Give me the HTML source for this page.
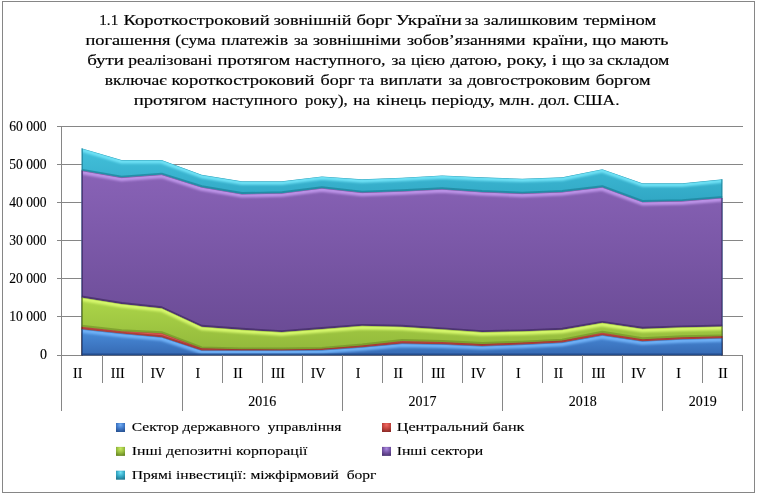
<!DOCTYPE html>
<html lang="uk"><head><meta charset="utf-8"><title>1.1 Короткостроковий зовнішній борг України</title>
<style>
html,body{margin:0;padding:0;background:#fff;}
body{width:757px;height:493px;overflow:hidden;}
svg{display:block;}
text{font-family:"Liberation Serif",serif;fill:#000;stroke:#000;stroke-width:0.18px;}
.t{font-size:15.3px;}
.a{font-size:14px;stroke-width:0.12px;}
.l{font-size:13.4px;stroke-width:0.12px;}
.g{stroke:#868686;stroke-width:1;fill:none;shape-rendering:crispEdges;}
.n{fill:none;stroke-linejoin:round;}
</style></head><body>
<svg width="757" height="493" viewBox="0 0 757 493">
<defs>
<linearGradient id="gc" gradientUnits="userSpaceOnUse" x1="0" y1="150" x2="0" y2="200"><stop offset="0" stop-color="#42bfda"/><stop offset="1" stop-color="#31a8c5"/></linearGradient>
<linearGradient id="gp" gradientUnits="userSpaceOnUse" x1="0" y1="175" x2="0" y2="335"><stop offset="0" stop-color="#8862b6"/><stop offset="1" stop-color="#6a4b95"/></linearGradient>
<linearGradient id="gg" gradientUnits="userSpaceOnUse" x1="0" y1="298" x2="0" y2="350"><stop offset="0" stop-color="#add649"/><stop offset="1" stop-color="#93b93b"/></linearGradient>
<linearGradient id="gr" gradientUnits="userSpaceOnUse" x1="0" y1="326" x2="0" y2="352"><stop offset="0" stop-color="#d8544c"/><stop offset="1" stop-color="#bd4640"/></linearGradient>
<linearGradient id="gb" gradientUnits="userSpaceOnUse" x1="0" y1="330" x2="0" y2="356"><stop offset="0" stop-color="#4a8edb"/><stop offset="1" stop-color="#3568b2"/></linearGradient>
<radialGradient id="mb" cx="0.5" cy="0.25" r="0.75" fx="0.5" fy="0.2"><stop offset="0" stop-color="#74aef4"/><stop offset="0.55" stop-color="#3f78c8"/><stop offset="1" stop-color="#2a5596"/></radialGradient>
<radialGradient id="mr" cx="0.5" cy="0.25" r="0.75" fx="0.5" fy="0.2"><stop offset="0" stop-color="#f26a62"/><stop offset="0.55" stop-color="#c4443e"/><stop offset="1" stop-color="#8e2c28"/></radialGradient>
<radialGradient id="mg" cx="0.5" cy="0.25" r="0.75" fx="0.5" fy="0.2"><stop offset="0" stop-color="#c8ea62"/><stop offset="0.55" stop-color="#98bd3e"/><stop offset="1" stop-color="#6b8a26"/></radialGradient>
<radialGradient id="mp" cx="0.5" cy="0.25" r="0.75" fx="0.5" fy="0.2"><stop offset="0" stop-color="#ab8ae2"/><stop offset="0.55" stop-color="#7553a4"/><stop offset="1" stop-color="#4e3676"/></radialGradient>
<radialGradient id="mc" cx="0.5" cy="0.25" r="0.75" fx="0.5" fy="0.2"><stop offset="0" stop-color="#72e2f6"/><stop offset="0.55" stop-color="#35a9c6"/><stop offset="1" stop-color="#217a92"/></radialGradient>
<filter id="b1" filterUnits="userSpaceOnUse" x="0" y="0" width="757" height="493"><feGaussianBlur stdDeviation="1.3"/></filter>
<filter id="b2" filterUnits="userSpaceOnUse" x="0" y="0" width="757" height="493"><feGaussianBlur stdDeviation="0.6"/></filter>
<clipPath id="kc"><path d="M81.5,355.5 L81.5,148.2 L121.6,160.1 L161.7,160.1 L201.7,174.8 L241.8,181.3 L281.8,181.3 L321.9,176.4 L362,179.3 L402,177.7 L442.1,175.4 L482.1,177.3 L522.2,178.7 L562.2,177.3 L602.3,169.2 L642.4,183.3 L682.4,183.3 L722.5,179.3 L722.5,355.5 Z"/></clipPath>
<clipPath id="kp"><path d="M81.5,355.5 L81.5,170.6 L121.6,177.6 L161.7,174.6 L201.7,187.2 L241.8,194 L281.8,193.2 L321.9,188.2 L362,192.6 L402,191.2 L442.1,189.2 L482.1,192 L522.2,193.6 L562.2,192 L602.3,187.2 L642.4,201.9 L682.4,201.1 L722.5,197.9 L722.5,355.5 Z"/></clipPath>
<clipPath id="kg"><path d="M81.5,355.5 L81.5,297.5 L121.6,303.9 L161.7,308.2 L201.7,326.7 L241.8,329.7 L281.8,332.1 L321.9,329 L362,325.8 L402,326.7 L442.1,329.3 L482.1,332.1 L522.2,331.3 L562.2,329.7 L602.3,322.8 L642.4,328.7 L682.4,327.3 L722.5,326.4 L722.5,355.5 Z"/></clipPath>
<clipPath id="kr"><path d="M81.5,355.5 L81.5,326.7 L121.6,331.2 L161.7,333.2 L201.7,348.3 L241.8,349.3 L281.8,349.4 L321.9,348.8 L362,345.4 L402,341 L442.1,342 L482.1,344 L522.2,342.6 L562.2,340.6 L602.3,332.7 L642.4,339.2 L682.4,337.2 L722.5,336.3 L722.5,355.5 Z"/></clipPath>
<clipPath id="kb"><path d="M81.5,355.5 L81.5,329.2 L121.6,333.6 L161.7,337.2 L201.7,350.4 L241.8,350.5 L281.8,350.5 L321.9,350.1 L362,347.2 L402,343.6 L442.1,344.3 L482.1,346 L522.2,344.6 L562.2,342.6 L602.3,335.3 L642.4,341.2 L682.4,339.2 L722.5,338.2 L722.5,355.5 Z"/></clipPath>
</defs>
<rect x="0" y="0" width="757" height="493" fill="#fff"/>
<rect x="2.5" y="1.5" width="752" height="491" fill="#fff" stroke="#868686" stroke-width="1"/>
<path class="g" d="M57,126.5 H743"/>
<path class="g" d="M57,164.5 H743"/>
<path class="g" d="M57,202.5 H743"/>
<path class="g" d="M57,240.5 H743"/>
<path class="g" d="M57,278.5 H743"/>
<path class="g" d="M57,316.5 H743"/>
<path class="g" d="M57,355.5 H743"/>
<path class="g" d="M61.5,126 V410.5"/>
<g clip-path="url(#kc)">
<path d="M81.5,355.5 L81.5,148.2 L121.6,160.1 L161.7,160.1 L201.7,174.8 L241.8,181.3 L281.8,181.3 L321.9,176.4 L362,179.3 L402,177.7 L442.1,175.4 L482.1,177.3 L522.2,178.7 L562.2,177.3 L602.3,169.2 L642.4,183.3 L682.4,183.3 L722.5,179.3 L722.5,355.5 Z" fill="url(#gc)"/>
<path class="n" d="M81.5,149.6 L121.6,161.5 L161.7,161.5 L201.7,176.2 L241.8,182.7 L281.8,182.7 L321.9,177.8 L362,180.7 L402,179.1 L442.1,176.8 L482.1,178.7 L522.2,180.1 L562.2,178.7 L602.3,170.6 L642.4,184.7 L682.4,184.7 L722.5,180.7" stroke="#6fe2f6" stroke-width="4.0" filter="url(#b1)"/>
<path class="n" d="M81.5,148.2 L121.6,160.1 L161.7,160.1 L201.7,174.8 L241.8,181.3 L281.8,181.3 L321.9,176.4 L362,179.3 L402,177.7 L442.1,175.4 L482.1,177.3 L522.2,178.7 L562.2,177.3 L602.3,169.2 L642.4,183.3 L682.4,183.3 L722.5,179.3" stroke="#1d8098" stroke-width="0.9" opacity="0.55"/>
<path class="n" d="M81.5,169.8 L121.6,176.8 L161.7,173.8 L201.7,186.4 L241.8,193.2 L281.8,192.4 L321.9,187.4 L362,191.8 L402,190.4 L442.1,188.4 L482.1,191.2 L522.2,192.8 L562.2,191.2 L602.3,186.4 L642.4,201.1 L682.4,200.3 L722.5,197.1" stroke="#1d8098" stroke-width="2.2" opacity="0.7" filter="url(#b2)"/>
<path class="n" d="M82,120 V360" stroke="#1d8098" stroke-width="1.8" opacity="0.8" filter="url(#b2)"/>
<path class="n" d="M722.1,120 V360" stroke="#1d8098" stroke-width="1.6" opacity="0.8" filter="url(#b2)"/>
</g>
<g clip-path="url(#kp)">
<path d="M81.5,355.5 L81.5,170.6 L121.6,177.6 L161.7,174.6 L201.7,187.2 L241.8,194 L281.8,193.2 L321.9,188.2 L362,192.6 L402,191.2 L442.1,189.2 L482.1,192 L522.2,193.6 L562.2,192 L602.3,187.2 L642.4,201.9 L682.4,201.1 L722.5,197.9 L722.5,355.5 Z" fill="url(#gp)"/>
<path class="n" d="M81.5,172 L121.6,179 L161.7,176 L201.7,188.6 L241.8,195.4 L281.8,194.6 L321.9,189.6 L362,194 L402,192.6 L442.1,190.6 L482.1,193.4 L522.2,195 L562.2,193.4 L602.3,188.6 L642.4,203.3 L682.4,202.5 L722.5,199.3" stroke="#bc93e7" stroke-width="4.4" filter="url(#b1)"/>
<path class="n" d="M81.5,170.6 L121.6,177.6 L161.7,174.6 L201.7,187.2 L241.8,194 L281.8,193.2 L321.9,188.2 L362,192.6 L402,191.2 L442.1,189.2 L482.1,192 L522.2,193.6 L562.2,192 L602.3,187.2 L642.4,201.9 L682.4,201.1 L722.5,197.9" stroke="#3f2a62" stroke-width="0.9" opacity="0.55"/>
<path class="n" d="M81.5,296.7 L121.6,303.1 L161.7,307.4 L201.7,325.9 L241.8,328.9 L281.8,331.3 L321.9,328.2 L362,325 L402,325.9 L442.1,328.5 L482.1,331.3 L522.2,330.5 L562.2,328.9 L602.3,322 L642.4,327.9 L682.4,326.5 L722.5,325.6" stroke="#3f2a62" stroke-width="2.2" opacity="0.7" filter="url(#b2)"/>
<path class="n" d="M82,120 V360" stroke="#3f2a62" stroke-width="1.8" opacity="0.8" filter="url(#b2)"/>
<path class="n" d="M722.1,120 V360" stroke="#3f2a62" stroke-width="1.6" opacity="0.8" filter="url(#b2)"/>
</g>
<g clip-path="url(#kg)">
<path d="M81.5,355.5 L81.5,297.5 L121.6,303.9 L161.7,308.2 L201.7,326.7 L241.8,329.7 L281.8,332.1 L321.9,329 L362,325.8 L402,326.7 L442.1,329.3 L482.1,332.1 L522.2,331.3 L562.2,329.7 L602.3,322.8 L642.4,328.7 L682.4,327.3 L722.5,326.4 L722.5,355.5 Z" fill="url(#gg)"/>
<path class="n" d="M81.5,298.9 L121.6,305.3 L161.7,309.6 L201.7,328.1 L241.8,331.1 L281.8,333.5 L321.9,330.4 L362,327.2 L402,328.1 L442.1,330.7 L482.1,333.5 L522.2,332.7 L562.2,331.1 L602.3,324.2 L642.4,330.1 L682.4,328.7 L722.5,327.8" stroke="#d6f76c" stroke-width="4.4" filter="url(#b1)"/>
<path class="n" d="M81.5,297.5 L121.6,303.9 L161.7,308.2 L201.7,326.7 L241.8,329.7 L281.8,332.1 L321.9,329 L362,325.8 L402,326.7 L442.1,329.3 L482.1,332.1 L522.2,331.3 L562.2,329.7 L602.3,322.8 L642.4,328.7 L682.4,327.3 L722.5,326.4" stroke="#5e7a1e" stroke-width="0.9" opacity="0.55"/>
<path class="n" d="M81.5,325.9 L121.6,330.4 L161.7,332.4 L201.7,347.5 L241.8,348.5 L281.8,348.6 L321.9,348 L362,344.6 L402,340.2 L442.1,341.2 L482.1,343.2 L522.2,341.8 L562.2,339.8 L602.3,331.9 L642.4,338.4 L682.4,336.4 L722.5,335.5" stroke="#5e7a1e" stroke-width="2.2" opacity="0.45" filter="url(#b2)"/>
<path class="n" d="M82,120 V360" stroke="#5e7a1e" stroke-width="1.8" opacity="0.8" filter="url(#b2)"/>
<path class="n" d="M722.1,120 V360" stroke="#5e7a1e" stroke-width="1.6" opacity="0.8" filter="url(#b2)"/>
</g>
<g clip-path="url(#kr)">
<path d="M81.5,355.5 L81.5,326.7 L121.6,331.2 L161.7,333.2 L201.7,348.3 L241.8,349.3 L281.8,349.4 L321.9,348.8 L362,345.4 L402,341 L442.1,342 L482.1,344 L522.2,342.6 L562.2,340.6 L602.3,332.7 L642.4,339.2 L682.4,337.2 L722.5,336.3 L722.5,355.5 Z" fill="url(#gr)"/>
<path class="n" d="M81.5,327.4 L121.6,331.9 L161.7,333.9 L201.7,349 L241.8,350 L281.8,350.1 L321.9,349.5 L362,346.1 L402,341.7 L442.1,342.7 L482.1,344.7 L522.2,343.3 L562.2,341.3 L602.3,333.4 L642.4,339.9 L682.4,337.9 L722.5,337" stroke="#e8706a" stroke-width="1.0" filter="url(#b1)"/>
<path class="n" d="M81.5,326.7 L121.6,331.2 L161.7,333.2 L201.7,348.3 L241.8,349.3 L281.8,349.4 L321.9,348.8 L362,345.4 L402,341 L442.1,342 L482.1,344 L522.2,342.6 L562.2,340.6 L602.3,332.7 L642.4,339.2 L682.4,337.2 L722.5,336.3" stroke="#7c2420" stroke-width="0.9" opacity="0.55"/>
<path class="n" d="M81.5,328.4 L121.6,332.8 L161.7,336.4 L201.7,349.6 L241.8,349.7 L281.8,349.7 L321.9,349.3 L362,346.4 L402,342.8 L442.1,343.5 L482.1,345.2 L522.2,343.8 L562.2,341.8 L602.3,334.5 L642.4,340.4 L682.4,338.4 L722.5,337.4" stroke="#7c2420" stroke-width="2.2" opacity="0.45" filter="url(#b2)"/>
<path class="n" d="M82,120 V360" stroke="#7c2420" stroke-width="1.8" opacity="0.8" filter="url(#b2)"/>
<path class="n" d="M722.1,120 V360" stroke="#7c2420" stroke-width="1.6" opacity="0.8" filter="url(#b2)"/>
</g>
<g clip-path="url(#kb)">
<path d="M81.5,355.5 L81.5,329.2 L121.6,333.6 L161.7,337.2 L201.7,350.4 L241.8,350.5 L281.8,350.5 L321.9,350.1 L362,347.2 L402,343.6 L442.1,344.3 L482.1,346 L522.2,344.6 L562.2,342.6 L602.3,335.3 L642.4,341.2 L682.4,339.2 L722.5,338.2 L722.5,355.5 Z" fill="url(#gb)"/>
<path class="n" d="M81.5,330.6 L121.6,335 L161.7,338.6 L201.7,351.8 L241.8,351.9 L281.8,351.9 L321.9,351.5 L362,348.6 L402,345 L442.1,345.7 L482.1,347.4 L522.2,346 L562.2,344 L602.3,336.7 L642.4,342.6 L682.4,340.6 L722.5,339.6" stroke="#6eb0f6" stroke-width="4.4" filter="url(#b1)"/>
<path class="n" d="M81.5,329.2 L121.6,333.6 L161.7,337.2 L201.7,350.4 L241.8,350.5 L281.8,350.5 L321.9,350.1 L362,347.2 L402,343.6 L442.1,344.3 L482.1,346 L522.2,344.6 L562.2,342.6 L602.3,335.3 L642.4,341.2 L682.4,339.2 L722.5,338.2" stroke="#1f4580" stroke-width="0.9" opacity="0.55"/>
<path class="n" d="M81.5,354.6 H722.5" stroke="#1f4580" stroke-width="2.4" opacity="0.75" filter="url(#b2)"/>
<path class="n" d="M82,120 V360" stroke="#1f4580" stroke-width="1.8" opacity="0.8" filter="url(#b2)"/>
<path class="n" d="M722.1,120 V360" stroke="#1f4580" stroke-width="1.6" opacity="0.8" filter="url(#b2)"/>
</g>
<path class="g" d="M102.5,355 V382.5"/>
<path class="g" d="M142.5,355 V382.5"/>
<path class="g" d="M182.5,355 V410.5"/>
<path class="g" d="M222.5,355 V382.5"/>
<path class="g" d="M262.5,355 V382.5"/>
<path class="g" d="M302.5,355 V382.5"/>
<path class="g" d="M342.5,355 V410.5"/>
<path class="g" d="M382.5,355 V382.5"/>
<path class="g" d="M422.5,355 V382.5"/>
<path class="g" d="M462.5,355 V382.5"/>
<path class="g" d="M502.5,355 V410.5"/>
<path class="g" d="M542.5,355 V382.5"/>
<path class="g" d="M582.5,355 V382.5"/>
<path class="g" d="M622.5,355 V382.5"/>
<path class="g" d="M662.5,355 V410.5"/>
<path class="g" d="M702.5,355 V382.5"/>
<path class="g" d="M742.5,355 V410.5"/>
<text class="a" x="46.5" y="131.2" text-anchor="end" textLength="37.3" lengthAdjust="spacingAndGlyphs">60 000</text>
<text class="a" x="46.5" y="169.2" text-anchor="end" textLength="37.3" lengthAdjust="spacingAndGlyphs">50 000</text>
<text class="a" x="46.5" y="207.2" text-anchor="end" textLength="37.3" lengthAdjust="spacingAndGlyphs">40 000</text>
<text class="a" x="46.5" y="245.2" text-anchor="end" textLength="37.3" lengthAdjust="spacingAndGlyphs">30 000</text>
<text class="a" x="46.5" y="283.2" text-anchor="end" textLength="37.3" lengthAdjust="spacingAndGlyphs">20 000</text>
<text class="a" x="46.5" y="321.2" text-anchor="end" textLength="37.3" lengthAdjust="spacingAndGlyphs">10 000</text>
<text class="a" x="47" y="359.2" text-anchor="end">0</text>
<text class="a" x="77.7" y="378.4" text-anchor="middle">II</text>
<text class="a" x="117.8" y="378.4" text-anchor="middle">III</text>
<text class="a" x="157.8" y="378.4" text-anchor="middle">IV</text>
<text class="a" x="197.9" y="378.4" text-anchor="middle">I</text>
<text class="a" x="238" y="378.4" text-anchor="middle">II</text>
<text class="a" x="278" y="378.4" text-anchor="middle">III</text>
<text class="a" x="318.1" y="378.4" text-anchor="middle">IV</text>
<text class="a" x="358.2" y="378.4" text-anchor="middle">I</text>
<text class="a" x="398.2" y="378.4" text-anchor="middle">II</text>
<text class="a" x="438.3" y="378.4" text-anchor="middle">III</text>
<text class="a" x="478.3" y="378.4" text-anchor="middle">IV</text>
<text class="a" x="518.4" y="378.4" text-anchor="middle">I</text>
<text class="a" x="558.5" y="378.4" text-anchor="middle">II</text>
<text class="a" x="598.5" y="378.4" text-anchor="middle">III</text>
<text class="a" x="638.6" y="378.4" text-anchor="middle">IV</text>
<text class="a" x="678.6" y="378.4" text-anchor="middle">I</text>
<text class="a" x="723" y="378.4" text-anchor="middle">II</text>
<text class="a" x="262.2" y="405.6" text-anchor="middle">2016</text>
<text class="a" x="422.4" y="405.6" text-anchor="middle">2017</text>
<text class="a" x="582.7" y="405.6" text-anchor="middle">2018</text>
<text class="a" x="702.7" y="405.6" text-anchor="middle">2019</text>
<text class="t" y="24.8"><tspan x="99.3" textLength="18.9" lengthAdjust="spacingAndGlyphs">1.1</tspan> <tspan x="123.6" textLength="146" lengthAdjust="spacingAndGlyphs">Короткостроковий</tspan> <tspan x="273.8" textLength="77.7" lengthAdjust="spacingAndGlyphs">зовнішній</tspan> <tspan x="356.4" textLength="35.6" lengthAdjust="spacingAndGlyphs">борг</tspan> <tspan x="395.7" textLength="66.2" lengthAdjust="spacingAndGlyphs">України</tspan> <tspan x="464.7" textLength="13.7" lengthAdjust="spacingAndGlyphs">за</tspan> <tspan x="483.5" textLength="94.5" lengthAdjust="spacingAndGlyphs">залишковим</tspan> <tspan x="583.5" textLength="72.7" lengthAdjust="spacingAndGlyphs">терміном</tspan></text>
<text class="t" y="44.9"><tspan x="85.4" textLength="85.2" lengthAdjust="spacingAndGlyphs">погашення</tspan> <tspan x="175.3" textLength="40.3" lengthAdjust="spacingAndGlyphs">(сума</tspan> <tspan x="221.3" textLength="66.7" lengthAdjust="spacingAndGlyphs">платежів</tspan> <tspan x="293.9" textLength="14.3" lengthAdjust="spacingAndGlyphs">за</tspan> <tspan x="312.9" textLength="88" lengthAdjust="spacingAndGlyphs">зовнішніми</tspan> <tspan x="406.9" textLength="118.7" lengthAdjust="spacingAndGlyphs">зобов’язаннями</tspan> <tspan x="532.4" textLength="55.6" lengthAdjust="spacingAndGlyphs">країни,</tspan> <tspan x="592.2" textLength="23.9" lengthAdjust="spacingAndGlyphs">що</tspan> <tspan x="620.5" textLength="47.9" lengthAdjust="spacingAndGlyphs">мають</tspan></text>
<text class="t" y="65.0"><tspan x="87.2" textLength="36.8" lengthAdjust="spacingAndGlyphs">бути</tspan> <tspan x="128.3" textLength="84" lengthAdjust="spacingAndGlyphs">реалізовані</tspan> <tspan x="217.5" textLength="72.8" lengthAdjust="spacingAndGlyphs">протягом</tspan> <tspan x="295.1" textLength="90.5" lengthAdjust="spacingAndGlyphs">наступного,</tspan> <tspan x="391.5" textLength="14.5" lengthAdjust="spacingAndGlyphs">за</tspan> <tspan x="411" textLength="33.9" lengthAdjust="spacingAndGlyphs">цією</tspan> <tspan x="450.5" textLength="51.3" lengthAdjust="spacingAndGlyphs">датою,</tspan> <tspan x="506.8" textLength="40.1" lengthAdjust="spacingAndGlyphs">року,</tspan> <tspan x="551.8" textLength="5.2" lengthAdjust="spacingAndGlyphs">і</tspan> <tspan x="561.7" textLength="23.4" lengthAdjust="spacingAndGlyphs">що</tspan> <tspan x="588.5" textLength="14.7" lengthAdjust="spacingAndGlyphs">за</tspan> <tspan x="606.9" textLength="62.5" lengthAdjust="spacingAndGlyphs">складом</tspan></text>
<text class="t" y="85.1"><tspan x="104.8" textLength="61.9" lengthAdjust="spacingAndGlyphs">включає</tspan> <tspan x="171.5" textLength="142.9" lengthAdjust="spacingAndGlyphs">короткостроковий</tspan> <tspan x="320.5" textLength="34.5" lengthAdjust="spacingAndGlyphs">борг</tspan> <tspan x="359.2" textLength="15" lengthAdjust="spacingAndGlyphs">та</tspan> <tspan x="380" textLength="62.1" lengthAdjust="spacingAndGlyphs">виплати</tspan> <tspan x="448.5" textLength="13.9" lengthAdjust="spacingAndGlyphs">за</tspan> <tspan x="467.4" textLength="122.8" lengthAdjust="spacingAndGlyphs">довгостроковим</tspan> <tspan x="595.7" textLength="54.8" lengthAdjust="spacingAndGlyphs">боргом</tspan></text>
<text class="t" y="105.2"><tspan x="133.7" textLength="73" lengthAdjust="spacingAndGlyphs">протягом</tspan> <tspan x="212" textLength="85.6" lengthAdjust="spacingAndGlyphs">наступного</tspan> <tspan x="305.1" textLength="42.5" lengthAdjust="spacingAndGlyphs">року),</tspan> <tspan x="353.3" textLength="16.9" lengthAdjust="spacingAndGlyphs">на</tspan> <tspan x="376.5" textLength="49.8" lengthAdjust="spacingAndGlyphs">кінець</tspan> <tspan x="431.5" textLength="63.1" lengthAdjust="spacingAndGlyphs">періоду,</tspan> <tspan x="499.1" textLength="35.5" lengthAdjust="spacingAndGlyphs">млн.</tspan> <tspan x="538.7" textLength="31.1" lengthAdjust="spacingAndGlyphs">дол.</tspan> <tspan x="573.5" textLength="46" lengthAdjust="spacingAndGlyphs">США.</tspan></text>
<rect x="116" y="423" width="9" height="9" fill="url(#mb)"/>
<text class="l" x="131.8" y="431.3" textLength="209.7" lengthAdjust="spacingAndGlyphs" xml:space="preserve">Сектор державного  управління</text>
<rect x="116" y="446.9" width="9" height="9" fill="url(#mg)"/>
<text class="l" x="131.8" y="455.1" textLength="175.7" lengthAdjust="spacingAndGlyphs" xml:space="preserve">Інші депозитні корпорації</text>
<rect x="116" y="470.7" width="9" height="9" fill="url(#mc)"/>
<text class="l" x="131.8" y="478.9" textLength="244.7" lengthAdjust="spacingAndGlyphs" xml:space="preserve">Прямі інвестиції: міжфірмовий  борг</text>
<rect x="382" y="423" width="9" height="9" fill="url(#mr)"/>
<text class="l" x="396.7" y="431.3" textLength="127.8" lengthAdjust="spacingAndGlyphs" xml:space="preserve">Центральний банк</text>
<rect x="382" y="446.9" width="9" height="9" fill="url(#mp)"/>
<text class="l" x="396.7" y="455.1" textLength="86.5" lengthAdjust="spacingAndGlyphs" xml:space="preserve">Інші сектори</text>
</svg>
</body></html>
